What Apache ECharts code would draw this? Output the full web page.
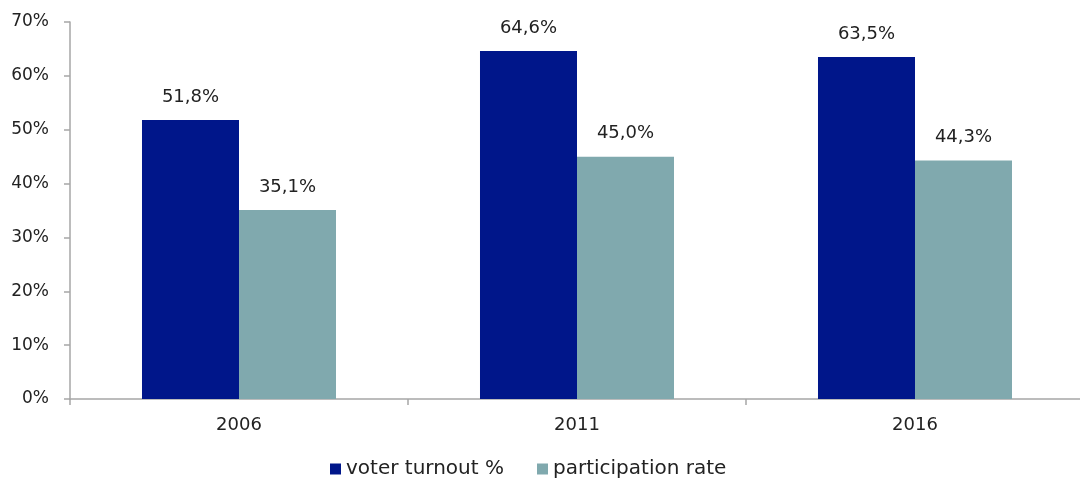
<!DOCTYPE html>
<html><head><meta charset="utf-8">
<script src="https://cdn.jsdelivr.net/npm/echarts@6/dist/echarts.min.js"></script>
<style>html,body{margin:0;padding:0;background:#fff}#c{width:1080px;height:490px}</style>
</head><body><div id="c"></div>
<script>
const categories = ['2006', '2011', '2016'];
const voterTurnout = [51.8, 64.6, 63.5];
const participationRate = [35.1, 45.0, 44.3];
const seriesNames = ['voter turnout %', 'participation rate'];

const FONT = '"DejaVu Sans", sans-serif';
const fmt = v => v.toFixed(1).replace('.', ',') + '%';
const chart = echarts.init(document.getElementById('c'));
const labelCfg = {
  show: true, position: 'top', distance: 14,
  color: '#222', fontSize: 18, fontFamily: FONT,
  formatter: p => fmt(p.value)
};
chart.setOption({
  animation: false,
  textStyle: { fontFamily: FONT },
  grid: { left: 70, width: 1014, top: 22, bottom: 91, containLabel: false, outerBoundsMode: 'none' },
  legend: {
    bottom: 6, left: 325, itemWidth: 11, itemHeight: 11, itemGap: 33,
    icon: 'rect',
    textStyle: { fontSize: 20, color: '#222', fontFamily: FONT },
    data: seriesNames
  },
  xAxis: {
    type: 'category', data: categories,
    axisLine: { lineStyle: { color: '#a6a6a6', width: 1.5 } },
    axisTick: { show: true, length: 6, lineStyle: { color: '#a6a6a6', width: 1.5 } },
    axisLabel: { fontSize: 18, color: '#222', margin: 17, fontFamily: FONT }
  },
  yAxis: {
    type: 'value', min: 0, max: 70, interval: 10,
    axisLine: { show: true, lineStyle: { color: '#a6a6a6', width: 1.5 } },
    axisTick: { show: true, inside: false, length: 6, lineStyle: { color: '#a6a6a6', width: 1.5 } },
    splitLine: { show: false },
    axisLabel: { fontSize: 17, color: '#222', margin: 21, fontFamily: FONT, formatter: v => v + '%' }
  },
  series: [
    { name: seriesNames[0], type: 'bar', data: voterTurnout, barGap: '0%', barCategoryGap: '42.6%',
      itemStyle: { color: '#00168A' }, label: labelCfg },
    { name: seriesNames[1], type: 'bar', data: participationRate, barGap: '0%', barCategoryGap: '42.6%',
      itemStyle: { color: '#80A9AE' }, label: labelCfg }
  ]
});
</script></body></html>
